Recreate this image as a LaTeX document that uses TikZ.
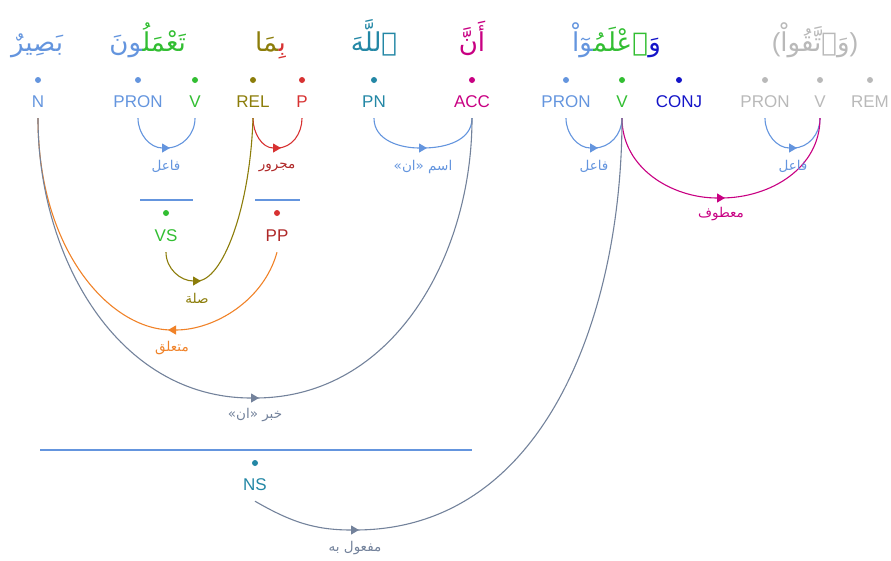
\documentclass[tikz,border=0pt]{standalone}
\usepackage{fontspec}
\setmainfont{Liberation Sans}
\newfontfamily\arabicfont[Script=Arabic]{DejaVu Sans}
\TeXXeTstate=1
\usetikzlibrary{arrows.meta}
\newcommand\zj{\char"200D\relax}
\definecolor{cblue}{RGB}{100,149,222}
\definecolor{cgreen}{RGB}{50,190,50}
\definecolor{colive}{RGB}{140,125,10}
\definecolor{cred}{RGB}{215,50,50}
\definecolor{cdred}{RGB}{175,40,40}
\definecolor{cteal}{RGB}{35,135,165}
\definecolor{cmag}{RGB}{200,0,130}
\definecolor{cnavy}{RGB}{20,20,200}
\definecolor{cgray}{RGB}{185,185,185}
\definecolor{corange}{RGB}{240,130,40}
\definecolor{cslate}{RGB}{115,130,155}
\begin{document}
\begin{tikzpicture}[x=1pt,y=-1pt,
  tag/.style={font=\fontsize{17}{17}\selectfont, inner sep=0pt, text height=12pt, text depth=0pt, minimum height=34pt},
  dot/.style={circle, fill, inner sep=0pt, minimum size=6pt},
  word/.style={font=\arabicfont\fontsize{26}{26}\selectfont, inner sep=0pt},
  rel/.style={font=\arabicfont\fontsize{13.5}{13.5}\selectfont, inner sep=0pt},
  arc/.style={line width=1.1pt},
  arrowhalf/.style={-{Triangle[length=8pt,width=9pt]}, shorten >=-4pt},
  hline/.style={cblue, line width=1.1pt}]
\useasboundingbox (0,0) rectangle (891,560);

% words
\node[word, text=cblue, anchor=base] (w1) at (37,51) {\beginR بَصِيرٌ\endR};
\node[word, text=cgreen, anchor=base east] (w2a) at (186,51) {\beginR تَعْمَلُ\zj\endR};
\node[word, text=cblue, anchor=base east] (w2b) at (w2a.base west) {\beginR\zj ونَ\endR};
\node[word, text=cred, anchor=base east] (w3a) at (286,51) {\beginR بِ\zj\endR};
\node[word, text=colive, anchor=base east] (w3b) at (w3a.base west) {\beginR\zj مَا\endR};
\node[word, text=cteal, anchor=base] (w4) at (374,51) {\beginR ٱللَّهَ\endR};
\node[word, text=cmag, anchor=base] (w5) at (472,51) {\beginR أَنَّ\endR};
\node[word, text=cnavy, anchor=base east] (w6a) at (661,51) {\beginR وَ\endR};
\node[word, text=cgreen, anchor=base east] (w6b) at (w6a.base west) {\beginR ٱعْلَمُ\zj\endR};
\node[word, text=cblue, anchor=base east] (w6c) at (w6b.base west) {\beginR\zj وٓاْ\endR};
\node[word, text=cgray, anchor=base] (w7) at (815,51) {{\normalfont(}\beginR وَٱتَّقُواْ\endR{\normalfont)}};

% dots
\foreach \x/\c in {38/cblue,138/cblue,195/cgreen,253/colive,302/cred,374/cteal,472/cmag,566/cblue,622/cgreen,679/cnavy,765/cgray,820/cgray,870/cgray}
  \node[dot, fill=\c] at (\x,80) {};

% tags
\node[tag, text=cblue] (N) at (38,101) {N};
\node[tag, text=cblue] (PRONa) at (138,101) {PRON};
\node[tag, text=cgreen] (Va) at (195,101) {V};
\node[tag, text=colive] (REL) at (253,101) {REL};
\node[tag, text=cred] (P) at (302,101) {P};
\node[tag, text=cteal] (PN) at (374,101) {PN};
\node[tag, text=cmag] (ACC) at (472,101) {ACC};
\node[tag, text=cblue] (PRONb) at (566,101) {PRON};
\node[tag, text=cgreen] (Vb) at (622,101) {V};
\node[tag, text=cnavy] (CONJ) at (679,101) {CONJ};
\node[tag, text=cgray] (PRONc) at (765,101) {PRON};
\node[tag, text=cgray] (Vc) at (820,101) {V};
\node[tag, text=cgray] (REM) at (870,101) {REM};

% phrase nodes
\draw[hline] (140,200) -- (193,200);
\draw[hline] (255,200) -- (300,200);
\draw[hline] (40,450) -- (472,450);
\node[dot, fill=cgreen] at (166,213) {};
\node[dot, fill=cred] at (277,213) {};
\node[dot, fill=cteal] at (255,463) {};
\node[tag, text=cgreen] (VS) at (166,235) {VS};
\node[tag, text=cdred] (PP) at (277,235) {PP};
\node[tag, text=cteal] (NS) at (255,484) {NS};

% arc bottoms
\coordinate (m1) at (166,148);
\coordinate (m2) at (277,148);
\coordinate (m3) at (423,148);
\coordinate (m4) at (594,148);
\coordinate (m5) at (793,148);
\coordinate (m6) at (721,198);
\coordinate (m7) at (197,281);
\coordinate (m8) at (172,330);
\coordinate (m9) at (255,398);
\coordinate (m10) at (355,530);

% arcs
\draw[arc, cblue, arrowhalf] (PRONa.south) to[out=-90,in=180] (m1);
\draw[arc, cblue] (m1) to[out=0,in=-90] (Va.south);
\draw[arc, cred, arrowhalf] (REL.south) to[out=-90,in=180] (m2);
\draw[arc, cred] (m2) to[out=0,in=-90] (P.south);
\draw[arc, cblue, arrowhalf] (PN.south) to[out=-90,in=180] (m3);
\draw[arc, cblue] (m3) to[out=0,in=-90] (ACC.south);
\draw[arc, cblue, arrowhalf] (PRONb.south) to[out=-90,in=180] (m4);
\draw[arc, cblue] (m4) to[out=0,in=-90] (Vb.south);
\draw[arc, cblue, arrowhalf] (PRONc.south) to[out=-90,in=180] (m5);
\draw[arc, cblue] (m5) to[out=0,in=-90] (Vc.south);
\draw[arc, cmag, arrowhalf] (Vb.south) to[out=-90,in=180] (m6);
\draw[arc, cmag] (m6) to[out=0,in=-90] (Vc.south);
\draw[arc, colive, arrowhalf] (VS.south) to[out=-90,in=180] (m7);
\draw[arc, colive] (m7) .. controls (222,281) and (250,210) .. (REL.south);
\draw[arc, corange, arrowhalf] (PP.south) .. controls (264,300) and (215,330) .. (m8);
\draw[arc, corange] (m8) .. controls (110,330) and (38,250) .. (N.south);
\draw[arc, cslate, arrowhalf] (N.south) to[out=-90,in=180] (m9);
\draw[arc, cslate] (m9) to[out=0,in=-90] (ACC.south);
\draw[arc, cslate, arrowhalf] (NS.south) to[out=-30,in=180] (m10);
\draw[arc, cslate] (m10) to[out=0,in=-90] (Vb.south);

% relation labels
\node[rel, text=cblue] (l1) at (166,166) {\beginR فاعل\endR};
\node[rel, text=cdred] (l2) at (277,167) {\beginR مجرور\endR};
\node[rel, text=cblue] (l3) at (423,167) {\beginR اسم «ان»\endR};
\node[rel, text=cblue] (l4) at (594,166) {\beginR فاعل\endR};
\node[rel, text=cblue] (l5) at (793,166) {\beginR فاعل\endR};
\node[rel, text=cmag] (l6) at (721,214) {\beginR معطوف\endR};
\node[rel, text=colive] (l7) at (197,298) {\beginR صلة\endR};
\node[rel, text=corange] (l8) at (172,348) {\beginR متعلق\endR};
\node[rel, text=cslate] (l9) at (255,415) {\beginR خبر «ان»\endR};
\node[rel, text=cslate] (l10) at (355,548) {\beginR مفعول به\endR};
\end{tikzpicture}
\end{document}
